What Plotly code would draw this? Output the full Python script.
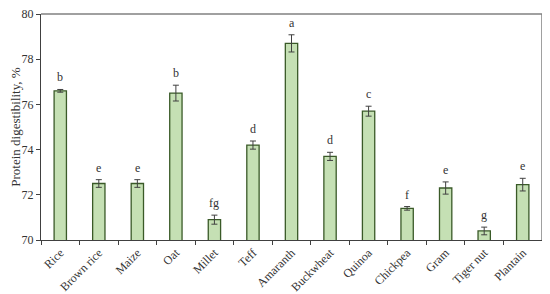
import plotly.graph_objects as go

categories = ["Rice", "Brown rice", "Maize", "Oat", "Millet", "Teff", "Amaranth",
              "Buckwheat", "Quinoa", "Chickpea", "Gram", "Tiger nut", "Plantain"]
values = [76.6, 72.5, 72.5, 76.5, 70.9, 74.2, 78.7, 73.7, 75.7, 71.4, 72.3, 70.4, 72.45]
errors = [0.06, 0.17, 0.17, 0.35, 0.2, 0.18, 0.38, 0.18, 0.22, 0.08, 0.27, 0.17, 0.28]
letters = ["b", "e", "e", "b", "fg", "d", "a", "d", "c", "f", "e", "g", "e"]

serif = "Liberation Serif"

fig = go.Figure()
fig.add_trace(go.Bar(
    x=categories, y=values, base=0,
    marker=dict(color="#c5e0b4", line=dict(color="#3a5a28", width=1.3)),
    width=0.32,
    error_y=dict(type="data", array=errors, visible=True, color="#404040",
                 thickness=1, width=3),
))

for c, v, e, l in zip(categories, values, errors, letters):
    fig.add_annotation(x=c, y=v + e, text=l, showarrow=False, yanchor="bottom",
                       yshift=3, font=dict(family=serif, size=12, color="#333333"))

fig.add_shape(type="line", xref="paper", yref="paper", x0=0, x1=1, y0=1, y1=1,
              line=dict(color="#808080", width=1.5))
fig.add_shape(type="line", xref="paper", yref="paper", x0=1, x1=1, y0=0, y1=1,
              line=dict(color="#808080", width=1.5))

fig.update_layout(
    width=542, height=286,
    margin=dict(l=33, r=8, t=6, b=54),
    plot_bgcolor="white", paper_bgcolor="white",
    showlegend=False,
    font=dict(family=serif, size=12, color="#333333"),
    xaxis=dict(
        tickson="boundaries", ticks="outside", ticklen=4, tickcolor="#404040",
        showline=True, linecolor="#404040", linewidth=1.2,
        tickangle=-45, tickfont=dict(family=serif, size=12, color="#333333"),
        showgrid=False, range=[-0.5, 12.5], automargin=False,
        ticklabeloverflow="allow",
    ),
    yaxis=dict(
        range=[70, 80], tickvals=[70, 72, 74, 76, 78, 80],
        ticks="outside", ticklen=4, tickcolor="#404040",
        showline=True, linecolor="#404040", linewidth=1.2,
        showgrid=False, zeroline=False, automargin=False,
        ticklabeloverflow="allow",
        tickfont=dict(family=serif, size=12, color="#333333"),
        title=dict(text="Protein digestibility, %", font=dict(family=serif, size=13, color="#333333"),
                   standoff=1),
    ),
)

fig.write_html("out.html")
